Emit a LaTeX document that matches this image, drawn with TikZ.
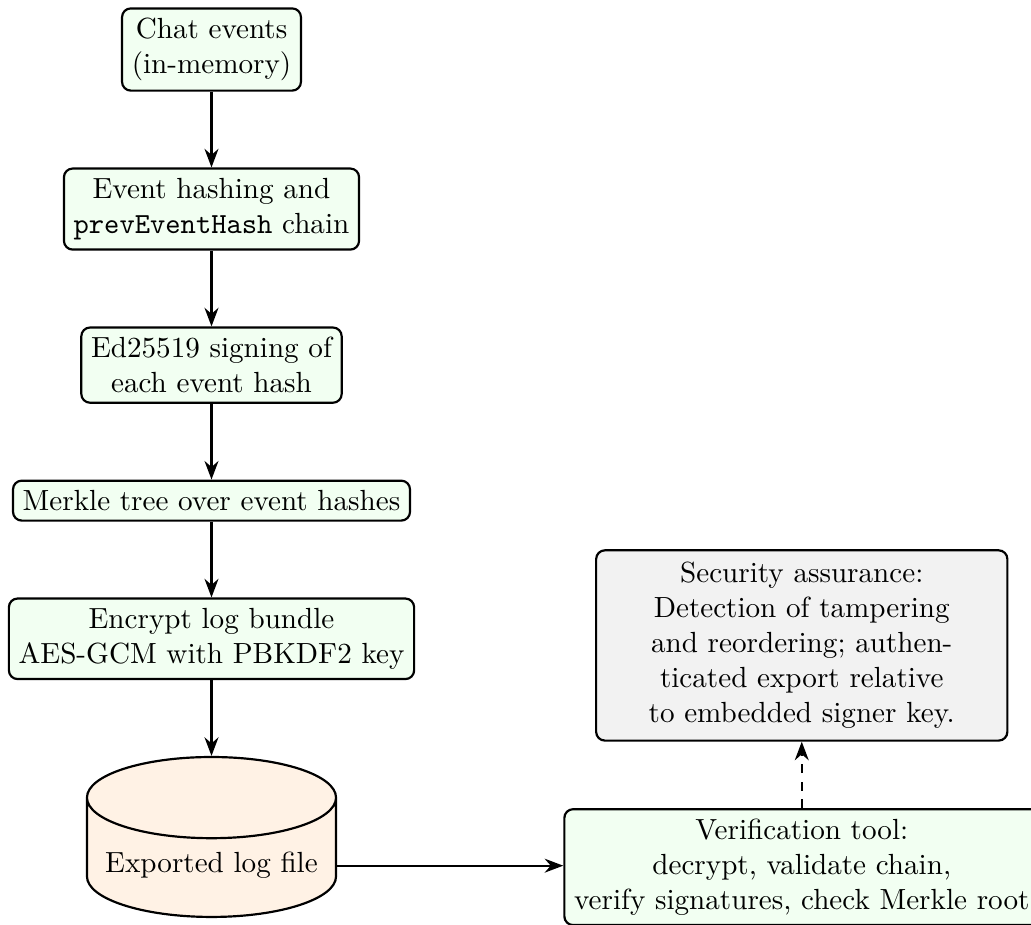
\documentclass[tikz,border=0pt]{standalone}
\usetikzlibrary{positioning,shapes.geometric,arrows.meta,calc}

\tikzset{
  flow/.style={draw, line width=0.75pt, rounded corners=3pt, fill=green!5,
    align=center, inner sep=3.33pt},
  store/.style={draw, line width=0.75pt, cylinder, shape border rotate=90,
    aspect=0.35, fill=orange!10, minimum width=85.5pt, minimum height=54.9pt,
    inner sep=3.33pt},
  note/.style={draw, line width=0.75pt, rounded corners=3pt, fill=gray!10,
    align=center, text width=134.5pt, inner xsep=3.33pt, inner ysep=4.1pt},
  link/.style={line width=0.75pt, -Stealth},
}

\begin{document}
\begin{tikzpicture}[node distance=26pt]
  \useasboundingbox (0,0) rectangle (353.9pt,-317.2pt);

  % main pipeline, top to bottom
  \node[flow] (chat) at (72.6pt,-17pt) {Chat events\\(in-memory)};
  \node[flow, below=of chat] (hash) {Event hashing and\\\texttt{prevEventHash} chain};
  \node[flow, below=of hash] (sign) {Ed25519 signing of\\each event hash};
  \node[flow, below=of sign] (merkle) {Merkle tree over event hashes};
  \node[flow, below=of merkle] (enc) {Encrypt log bundle\\AES-GCM with PBKDF2 key};
  \node[store, below=of enc] (cyl) {Exported log file};

  % verification side
  \node[flow, anchor=west] (verify) at ($(cyl.east)+(77.6pt,-0.5pt)$)
    {Verification tool:\\decrypt, validate chain,\\verify signatures, check Merkle root};
  \node[note, above=22.8pt of verify] (sec)
    {Security assurance:\\Detection of tampering\\and reordering; authen-\\ticated export relative\\to embedded signer key.};

  \draw[link] (chat) -- (hash);
  \draw[link] (hash) -- (sign);
  \draw[link] (sign) -- (merkle);
  \draw[link] (merkle) -- (enc);
  \draw[link] (enc) -- (cyl);
  \draw[link] (cyl.east) -- (cyl.east -| verify.west);
  \draw[link, dashed] (verify) -- (sec);
\end{tikzpicture}
\end{document}
